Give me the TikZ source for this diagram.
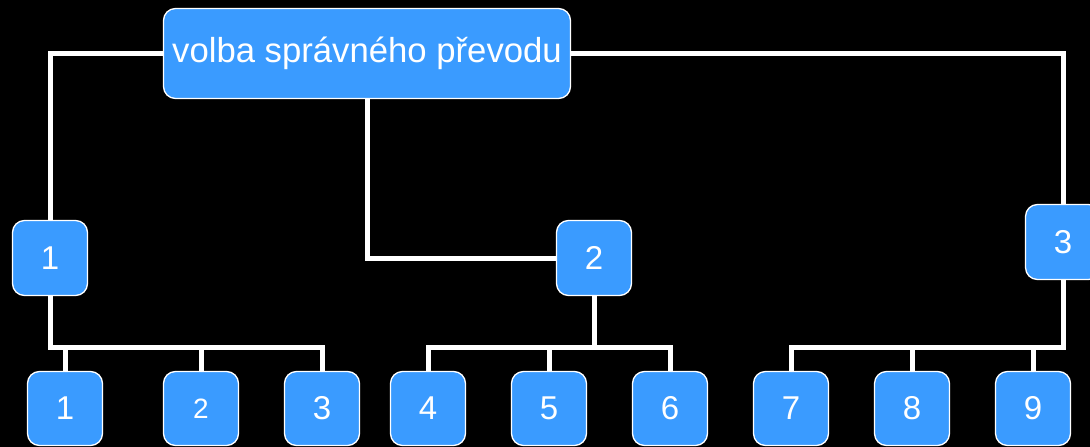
\documentclass[tikz,border=0pt]{standalone}
\usepackage{fontspec}
\setmainfont{Liberation Sans}
\definecolor{boxblue}{HTML}{3A9BFF}
\pgfdeclarelayer{bg}
\pgfdeclarelayer{lines}
\pgfsetlayers{bg,lines,main}
\tikzset{
  box/.style={draw=white, line width=1.3pt, fill=boxblue, rounded corners=12pt,
    text=white, font=\fontsize{33}{40}\selectfont, minimum width=75pt,
    minimum height=75pt, inner sep=0pt},
  leaf/.style={box, minimum height=74pt},
  top/.style={box, minimum width=407pt, minimum height=90pt, font=\fontsize{34.7}{40}\selectfont},
  conn/.style={draw=white, line width=5pt, line join=miter}
}
\begin{document}
\begin{tikzpicture}[x=1pt,y=-1pt]
\begin{pgfonlayer}{bg}
\fill[black] (0,0) rectangle (1090,447);
\end{pgfonlayer}
\useasboundingbox (0,0) rectangle (1090,447);
\node[top] (T) at (367,53.5) {volba správného převodu};
\node[box] (L1) at (50,258) {1};
\node[box] (L2) at (594,258) {2};
\node[box] (L3) at (1063,242) {3};
\node[leaf] (b1) at (65,408.5) {1};
\node[leaf, font=\fontsize{28}{34}\selectfont] (b2) at (201,408.5) {2};
\node[leaf] (b3) at (322,408.5) {3};
\node[leaf] (b4) at (428,408.5) {4};
\node[leaf] (b5) at (549,408.5) {5};
\node[leaf] (b6) at (670,408.5) {6};
\node[leaf] (b7) at (791,408.5) {7};
\node[leaf] (b8) at (912,408.5) {8};
\node[leaf] (b9) at (1033,408.5) {9};
\begin{pgfonlayer}{lines}
\path[conn] (T.west) -| (L1.north);
\path[conn] (T.south) |- (L2.west);
\path[conn] (T.east) -| (L3.north);
\foreach \c in {b1,b2,b3}{\path[conn] (L1.south) -- ++(0,51) -| (\c.north);}
\foreach \c in {b4,b5,b6}{\path[conn] (L2.south) -- ++(0,51) -| (\c.north);}
\foreach \c in {b7,b8,b9}{\path[conn] (L3.south) -- ++(0,67) -| (\c.north);}
\end{pgfonlayer}
\end{tikzpicture}
\end{document}
